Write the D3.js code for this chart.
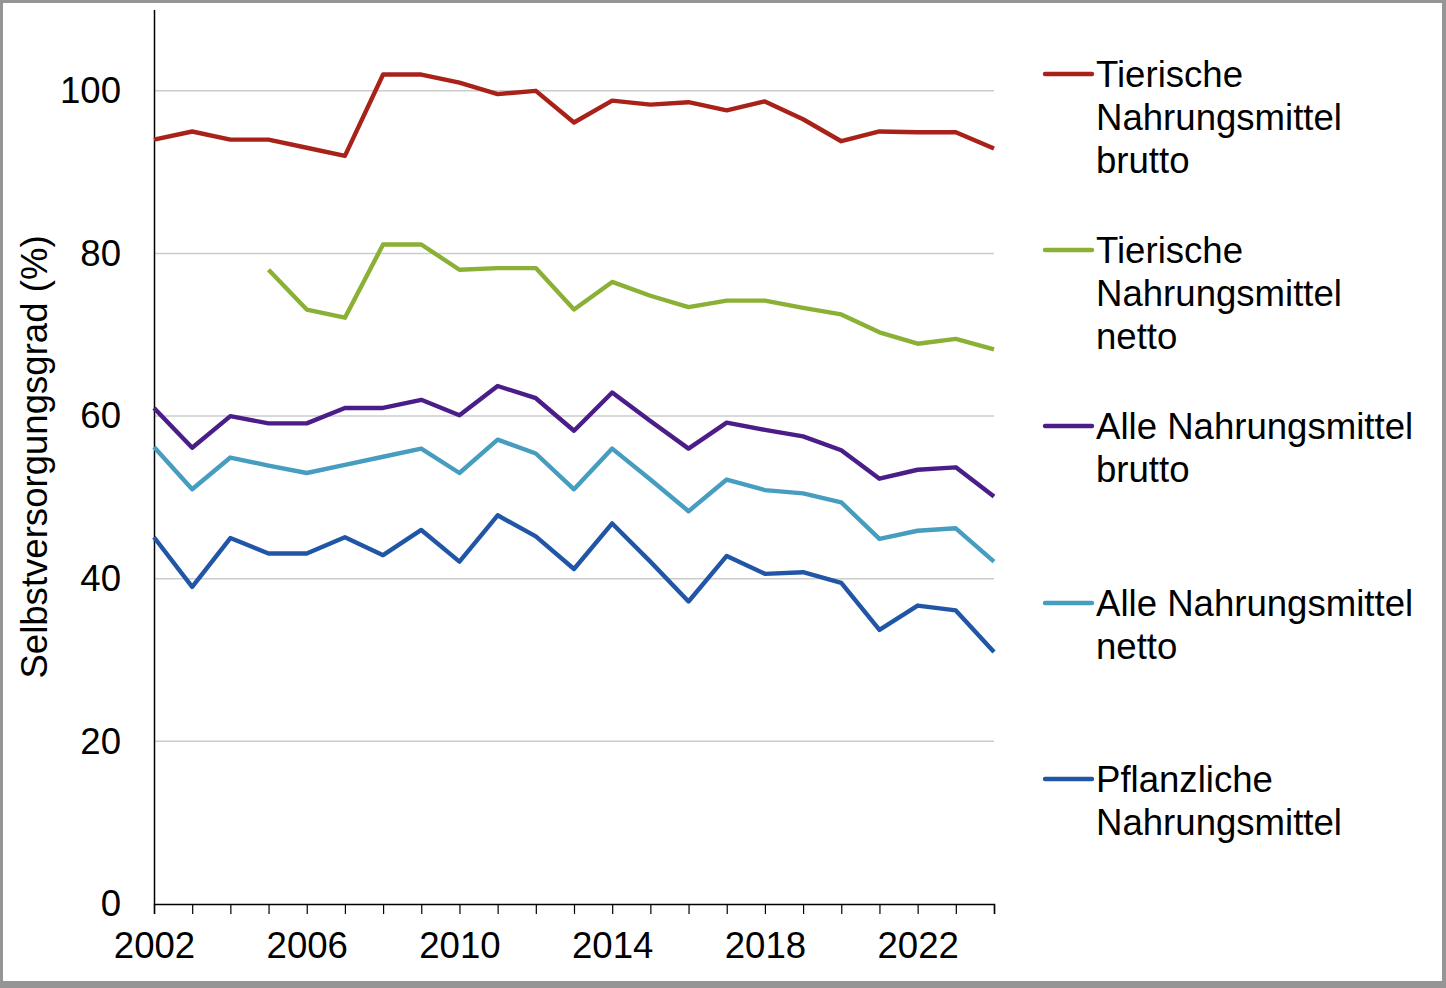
<!DOCTYPE html>
<html><head><meta charset="utf-8">
<script src="https://cdn.jsdelivr.net/npm/d3@7"></script>
<style>body{margin:0;background:#fff}svg{display:block}text{font-family:"Liberation Sans",Arial,sans-serif}</style>
</head><body><div id="chart"></div>
<script>
const years = d3.range(2002, 2025);
const xTickLabels = [2002, 2006, 2010, 2014, 2018, 2022];
const yTicks = [0, 20, 40, 60, 80, 100];
const seriesNames = [
  ["Tierische", "Nahrungsmittel", "brutto"],
  ["Tierische", "Nahrungsmittel", "netto"],
  ["Alle Nahrungsmittel", "brutto"],
  ["Alle Nahrungsmittel", "netto"],
  ["Pflanzliche", "Nahrungsmittel"]
];
const colors = ["#a8221a", "#8ab035", "#4b1d88", "#469dbf", "#2156a6"];
const tierBrutto = [94, 95, 94, 94, 93, 92, 102, 102, 101, 99.6, 100, 96.1, 98.8, 98.3, 98.6, 97.6, 98.7, 96.5, 93.8, 95.0, 94.9, 94.9, 92.9];
const tierNetto = [null, null, null, 78, 73.1, 72.1, 81.1, 81.1, 78, 78.2, 78.2, 73.1, 76.5, 74.8, 73.4, 74.2, 74.2, 73.3, 72.5, 70.3, 68.9, 69.5, 68.2];
const alleBrutto = [61, 56.1, 60, 59.1, 59.1, 61, 61, 62, 60.1, 63.7, 62.2, 58.2, 62.9, 59.4, 56, 59.2, 58.3, 57.5, 55.8, 52.3, 53.4, 53.7, 50.1];
const alleNetto = [56.2, 51, 54.9, 53.9, 53, 54, 55, 56, 53, 57.1, 55.4, 51, 56, 52.2, 48.3, 52.2, 50.9, 50.5, 49.4, 44.9, 45.9, 46.2, 42.1];
const pflanzlich = [45.1, 39, 45, 43.1, 43.1, 45.1, 42.9, 46, 42.1, 47.8, 45.2, 41.2, 46.8, 42.1, 37.2, 42.8, 40.6, 40.8, 39.5, 33.7, 36.7, 36.1, 31.0];
const allSeries = [tierBrutto, tierNetto, alleBrutto, alleNetto, pflanzlich];

const W = 1446, H = 988;
const FS = 36.6;
const svg = d3.select("#chart").append("svg").attr("width", W).attr("height", H);
svg.append("rect").attr("width", W).attr("height", H).attr("fill", "#959595");
svg.append("rect").attr("x", 3).attr("y", 3).attr("width", 1439).attr("height", 978).attr("fill", "#fff");

const x = d3.scaleLinear().domain([2002, 2024]).range([154, 994]);
const y = d3.scaleLinear().domain([0, 110]).range([904, 9.5]);

// gridlines
svg.append("g").selectAll("line").data(yTicks.filter(d => d > 0)).join("line")
  .attr("x1", x(2002)).attr("x2", x(2024)).attr("y1", d => y(d)).attr("y2", d => y(d))
  .attr("stroke", "#cccccc").attr("stroke-width", 1.5);

// y axis
const yAxis = svg.append("g").attr("transform", `translate(${x(2002)},0)`)
  .call(d3.axisLeft(y).tickValues(yTicks).tickSize(0).tickPadding(33).tickFormat(d3.format("d")));
yAxis.select(".domain").attr("stroke", "#000").attr("stroke-width", 1.5);
yAxis.selectAll("text").attr("font-size", FS).attr("fill", "#000").attr("font-family", "Liberation Sans, Arial, sans-serif");

// x axis
const xAxis = svg.append("g").attr("transform", `translate(0,${y(0)})`)
  .call(d3.axisBottom(x).tickValues(years).tickSize(10).tickPadding(18)
    .tickFormat(d => xTickLabels.includes(d) ? String(d) : ""));
xAxis.select(".domain").attr("stroke", "#000").attr("stroke-width", 1.5);
xAxis.selectAll(".tick line").attr("stroke", "#000").attr("stroke-width", 1.2);
xAxis.selectAll("text").attr("font-size", FS).attr("fill", "#000").attr("font-family", "Liberation Sans, Arial, sans-serif");

// y title
svg.append("text").attr("transform", `translate(47,457) rotate(-90)`)
  .attr("text-anchor", "middle").attr("font-size", FS).attr("fill", "#000")
  .text("Selbstversorgungsgrad (%)");

// lines
const line = d3.line().defined(d => d[1] != null).x(d => x(d[0])).y(d => y(d[1]));
allSeries.forEach((s, i) => {
  svg.append("path").datum(years.map((yr, j) => [yr, s[j]]))
    .attr("d", line).attr("fill", "none").attr("stroke", colors[i])
    .attr("stroke-width", 4.4).attr("stroke-linejoin", "round");
});

// legend
const legTop = [74, 250, 426, 603, 779];
seriesNames.forEach((lines, i) => {
  const g = svg.append("g").attr("transform", `translate(0,${legTop[i]})`);
  g.append("line").attr("x1", 1045).attr("x2", 1092).attr("y1", 0).attr("y2", 0)
    .attr("stroke", colors[i]).attr("stroke-width", 4.4).attr("stroke-linecap", "round");
  const t = g.append("text").attr("x", 1096).attr("y", 12.5).attr("font-size", FS).attr("fill", "#000");
  lines.forEach((l, k) => t.append("tspan").attr("x", 1096).attr("dy", k === 0 ? 0 : 43).text(l));
});
</script></body></html>
